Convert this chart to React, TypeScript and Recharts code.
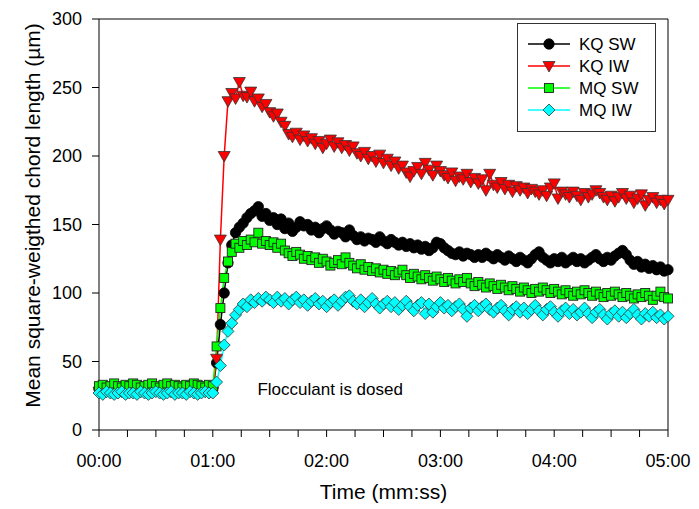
import React from "react";
import { LineChart, Line, XAxis, YAxis, ReferenceLine, ReferenceDot, Legend } from "recharts";

const FONT = 'Arial, "Liberation Sans", sans-serif';

// samples every 2 s, 00:00 .. 05:00
const STEP = 2;

const kqSW = [
  30, 31, 30, 29, 30, 31, 30, 30, 29, 30,
  31, 30, 29, 30, 30, 31, 30, 29, 30, 31,
  30, 30, 29, 30, 31, 30, 30, 29, 30, 31,
  30, 49, 77, 100, 122, 135, 144, 148, 151, 155,
  158, 160, 163, 156, 158, 153, 155, 150, 154, 147,
  151, 145, 148, 152, 149, 150, 146, 148, 144, 147,
  149, 146, 143, 145, 144, 141, 146, 142, 139, 141,
  138, 140, 139, 137, 141, 138, 136, 139, 137, 135,
  137, 134, 136, 133, 135, 132, 134, 131, 133, 137,
  136, 133, 131, 129, 128, 130, 127, 129, 128, 126,
  128, 126, 129, 127, 125, 128, 126, 124, 127, 125,
  123, 126, 124, 122, 125, 128, 130, 126, 124, 122,
  125, 123, 126, 122, 124, 126, 123, 125, 122, 124,
  126, 128, 125, 123, 126, 124, 127, 129, 131, 128,
  124, 121, 123, 119, 121, 118, 120, 117, 119, 116,
  117,
];

const kqIW = [
  28, 29, 28, 29, 28, 28, 29, 28, 29, 28,
  29, 28, 28, 29, 28, 29, 28, 29, 28, 28,
  29, 28, 29, 28, 29, 28, 28, 29, 28, 29,
  28, 52, 139, 200, 240, 246, 242, 254, 244, 243,
  247, 240, 242, 236, 238, 232, 229, 231, 225, 222,
  216, 214, 217, 212, 215, 211, 213, 209, 211, 206,
  209, 212, 207, 210, 206, 208, 204, 207, 202, 200,
  203, 198, 200, 196, 201, 195, 198, 193, 196, 191,
  193, 188, 185, 189, 192, 187, 195, 190, 186, 193,
  189, 186, 184, 188, 182, 185, 183, 187, 181, 184,
  180, 183, 175, 187, 179, 177, 181, 176, 179, 174,
  178, 175, 177, 173, 176, 174, 172, 175, 171, 177,
  180, 169, 174, 172, 170, 174, 171, 168, 173, 170,
  172, 175, 173, 170, 168, 171, 167, 170, 173, 169,
  171, 166, 169, 172, 164, 168, 170, 166, 168, 165,
  168,
];

const mqSW = [
  32, 33, 31, 32, 34, 32, 31, 33, 32, 34,
  33, 31, 32, 33, 34, 32, 31, 33, 34, 32,
  33, 32, 31, 33, 32, 34, 33, 32, 31, 33,
  32, 61, 89, 111, 123, 130, 136, 133, 138, 135,
  139, 137, 144, 136, 138, 135, 137, 133, 136, 131,
  129, 127, 130, 128, 125, 127, 124, 126, 122, 125,
  123, 120, 122, 124, 121, 126, 122, 120, 118, 121,
  117, 119, 116, 118, 115, 117, 114, 116, 113, 115,
  117, 113, 111, 114, 112, 110, 113, 111, 109, 112,
  110, 108, 111, 109, 107, 110, 108, 111, 107, 105,
  108, 106, 104, 107, 105, 103, 106, 104, 102, 105,
  103, 101, 104, 102, 100, 103, 101, 104, 102, 100,
  103, 101, 99, 102, 100, 98, 101, 99, 102, 100,
  98, 101, 99, 97, 100, 98, 101, 99, 97, 100,
  98, 96, 99, 97, 100, 98, 95, 98, 101, 97,
  96,
];

const mqIW = [
  27, 26, 28, 27, 26, 27, 28, 26, 27, 27,
  26, 28, 27, 26, 27, 28, 27, 26, 27, 28,
  26, 27, 27, 26, 28, 27, 26, 27, 28, 27,
  27, 35, 47, 62, 72, 78, 84, 88, 92, 90,
  95, 93, 96, 94, 97, 95, 93, 97, 94, 96,
  92, 95, 97, 93, 95, 91, 94, 96, 92, 94,
  90, 93, 95, 91, 94, 97, 98, 94, 92, 95,
  90, 93, 96, 92, 89, 92, 94, 90, 93, 88,
  91, 94, 90, 87, 91, 93, 85, 92, 86, 90,
  93, 89, 91, 87, 90, 92, 88, 83, 89, 91,
  87, 90, 92, 88, 86, 89, 91, 87, 84, 88,
  90, 86, 89, 85, 88, 91, 87, 84, 88, 90,
  86, 83, 87, 89, 85, 88, 84, 86, 89, 85,
  82, 86, 88, 84, 81, 85, 87, 83, 86, 82,
  85, 88, 84, 81, 85, 83, 86, 82, 84, 81,
  83,
];

const xTicks = [0, 15, 30, 45, 60, 75, 90, 105, 120, 135, 150, 165, 180, 195, 210, 225, 240, 255, 270, 285, 300];
const yTicks = [0, 50, 100, 150, 200, 250, 300];

const series = [
  { key: "kqSW", name: "KQ SW", color: "#000000", shape: "circle" },
  { key: "kqIW", name: "KQ IW", color: "#ff0000", shape: "triangle" },
  { key: "mqSW", name: "MQ SW", color: "#00ff00", shape: "square" },
  { key: "mqIW", name: "MQ IW", color: "#00ffff", shape: "diamond" },
];

const chartData = kqSW.map((v, i) => ({
  t: i * STEP,
  kqSW: v,
  kqIW: kqIW[i],
  mqSW: mqSW[i],
  mqIW: mqIW[i],
}));

// mm:ss only on the whole minutes
const fmtTime = (t: number) => {
  if (t % 60 !== 0) return "";
  const m = Math.floor(t / 60);
  const s = t % 60;
  return `${String(m).padStart(2, "0")}:${String(s).padStart(2, "0")}`;
};

const Marker = ({ shape, color, cx, cy }: any) => {
  if (cx == null || cy == null) return null;
  if (shape === "circle") {
    return <circle cx={cx} cy={cy} r={5.2} fill="#000" stroke="#000" strokeWidth={0.8} />;
  }
  if (shape === "triangle") {
    return (
      <polygon
        points={`${cx - 6},${cy - 4.5} ${cx + 6},${cy - 4.5} ${cx},${cy + 6}`}
        fill={color}
        stroke="#333"
        strokeWidth={0.8}
      />
    );
  }
  if (shape === "square") {
    return <rect x={cx - 4.5} y={cy - 4.5} width={9} height={9} fill={color} stroke="#222" strokeWidth={0.9} />;
  }
  return (
    <polygon
      points={`${cx},${cy - 6} ${cx + 6},${cy} ${cx},${cy + 6} ${cx - 6},${cy}`}
      fill={color}
      stroke="#333"
      strokeWidth={0.8}
    />
  );
};

const LegendBox = () => (
  <svg width={140} height={110} style={{ display: "block" }}>
    <rect x={0.5} y={0.5} width={138} height={108} fill="#fff" stroke="#333" strokeWidth={1} />
    {series.map((s, i) => {
      const y = 21 + i * 22;
      return (
        <g key={s.key}>
          <line x1={11} x2={53} y1={y} y2={y} stroke={s.color} strokeWidth={1.5} />
          <Marker shape={s.shape} color={s.color} cx={32} cy={y} />
          <text x={62} y={y} dominantBaseline="central" fontSize={17} fill="#000">
            {s.name}
          </text>
        </g>
      );
    })}
  </svg>
);

const YTitle = ({ viewBox }: any) => {
  const cx = 32;
  const cy = viewBox.y + viewBox.height / 2 - 9;
  return (
    <text
      x={cx}
      y={cy}
      transform={`rotate(-90, ${cx}, ${cy})`}
      textAnchor="middle"
      dominantBaseline="central"
      fontSize={21}
      fill="#000"
    >
      Mean square-weigthed chord length (µm)
    </text>
  );
};

export default function App() {
  return (
    <div style={{ position: "absolute", left: 0, top: 0, fontFamily: FONT, background: "#fff" }}>
      <LineChart width={699} height={509} data={chartData} margin={{ top: 19, right: 31, bottom: 0, left: 0 }}>
        <XAxis
          dataKey="t"
          type="number"
          domain={[0, 300]}
          ticks={xTicks}
          interval={0}
          tickFormatter={fmtTime}
          height={79}
          stroke="#000"
          tickSize={7}
          tickMargin={17}
          tick={{ fill: "#000", fontSize: 18 }}
          label={{ value: "Time (mm:ss)", position: "insideBottom", offset: 10, fontSize: 21, fill: "#000" }}
        />
        <YAxis
          type="number"
          domain={[0, 300]}
          ticks={yTicks}
          interval={0}
          width={99}
          stroke="#000"
          tickSize={7}
          tickMargin={10}
          tick={{ fill: "#000", fontSize: 18 }}
          label={YTitle}
        />
        <ReferenceLine y={300} stroke="#000" strokeWidth={1} />
        <ReferenceLine x={300} stroke="#000" strokeWidth={1} />
        <ReferenceDot
          x={83}
          y={30}
          r={1}
          fill="none"
          stroke="none"
          label={{ value: "Flocculant is dosed", position: "right", offset: 0, fontSize: 17, fill: "#000" }}
        />
        {series.map((s) => (
          <Line
            key={s.key}
            type="linear"
            dataKey={s.key}
            name={s.name}
            stroke={s.color}
            strokeWidth={1.5}
            isAnimationActive={false}
            activeDot={false}
            dot={(p: any) => <Marker key={`${s.key}-${p.index}`} shape={s.shape} color={s.color} cx={p.cx} cy={p.cy} />}
          />
        ))}
        <Legend
          layout="vertical"
          align="center"
          verticalAnchor="middle"
          verticalAlign="middle"
          content={() => <LegendBox />}
          wrapperStyle={{ left: 517, top: 23, width: 140, height: 110 }}
        />
      </LineChart>
    </div>
  );
}
